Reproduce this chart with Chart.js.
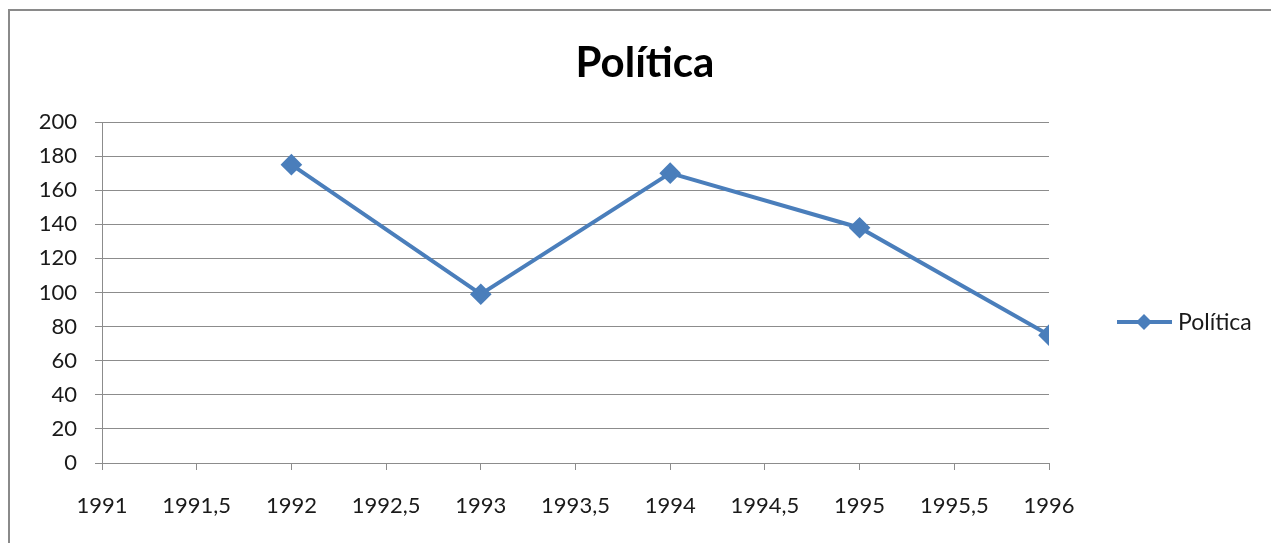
<!DOCTYPE html>
<html>
<head>
<meta charset="utf-8">
<script src="https://cdn.jsdelivr.net/npm/chart.js@4/dist/chart.umd.min.js"></script>
<style>
  html, body { margin: 0; padding: 0; background: #fff; overflow: hidden; }
  #wrap { position: relative; width: 1271px; height: 543px; }
  #frame {
    position: absolute; left: 8px; top: 9px; width: 1300px; height: 600px;
    border-left: 2px solid #8a8a8a; border-top: 2px solid #8a8a8a;
    pointer-events: none;
  }
</style>
</head>
<body>
<div id="wrap">
  <canvas id="chart" width="1271" height="543"></canvas>
  <div id="frame"></div>
</div>
<script>
const seriesName = "Política";
const years = [1992, 1993, 1994, 1995, 1996];
const values = [175, 99, 170, 138, 75];

const lineColor = "#4a7ebb";
const gridColor = "#8c8c8c";
const textColor = "#1a1a1a";
const fontFamily = "Lato, 'Open Sans', sans-serif";

// title and legend drawn like Excel places them (title centred on the whole frame)
const excelDecor = {
  id: "excelDecor",
  afterDraw(chart) {
    const ctx = chart.ctx;
    ctx.save();
    ctx.fillStyle = "#000";
    ctx.font = "bold 42px " + fontFamily;
    ctx.textAlign = "center";
    ctx.textBaseline = "alphabetic";
    ctx.fillText(seriesName, 645, 77);

    const y = 322;
    ctx.strokeStyle = lineColor;
    ctx.lineWidth = 4;
    ctx.beginPath();
    ctx.moveTo(1117, y);
    ctx.lineTo(1172, y);
    ctx.stroke();
    ctx.fillStyle = lineColor;
    ctx.beginPath();
    ctx.moveTo(1144, y - 8);
    ctx.lineTo(1152, y);
    ctx.lineTo(1144, y + 8);
    ctx.lineTo(1136, y);
    ctx.closePath();
    ctx.fill();
    ctx.fillStyle = textColor;
    ctx.font = "23px " + fontFamily;
    ctx.textBaseline = "middle";
    ctx.textAlign = "left";
    ctx.fillText(seriesName, 1178, y + 1);
    ctx.restore();
  }
};

new Chart(document.getElementById("chart"), {
  type: "line",
  data: {
    datasets: [{
      label: seriesName,
      data: years.map((yr, i) => ({ x: yr, y: values[i] })),
      borderColor: lineColor,
      backgroundColor: lineColor,
      borderWidth: 4,
      pointStyle: "rectRot",
      pointRadius: 8,
      pointHoverRadius: 8,
      tension: 0
    }]
  },
  options: {
    responsive: false,
    animation: false,
    devicePixelRatio: 1,
    layout: { padding: { left: 0, right: 222, top: 122, bottom: 0 } },
    plugins: {
      legend: { display: false },
      tooltip: { enabled: false },
      title: { display: false }
    },
    scales: {
      x: {
        type: "linear",
        min: 1991,
        max: 1996,
        afterFit(scale) { scale.height = 80; },
        border: { color: gridColor, width: 1 },
        grid: { drawOnChartArea: false, drawTicks: true, tickLength: 7, color: gridColor },
        ticks: {
          stepSize: 0.5,
          color: textColor,
          padding: 23,
          maxRotation: 0,
          autoSkip: false,
          font: { family: fontFamily, size: 22 },
          callback: (v) => String(v).replace(".", ",")
        }
      },
      y: {
        min: 0,
        max: 200,
        afterFit(scale) { scale.width = 102; },
        border: { color: gridColor, width: 1 },
        grid: { color: gridColor, tickLength: 7 },
        ticks: {
          stepSize: 20,
          color: textColor,
          padding: 18,
          font: { family: fontFamily, size: 22 }
        }
      }
    }
  },
  plugins: [excelDecor]
});
</script>
</body>
</html>
